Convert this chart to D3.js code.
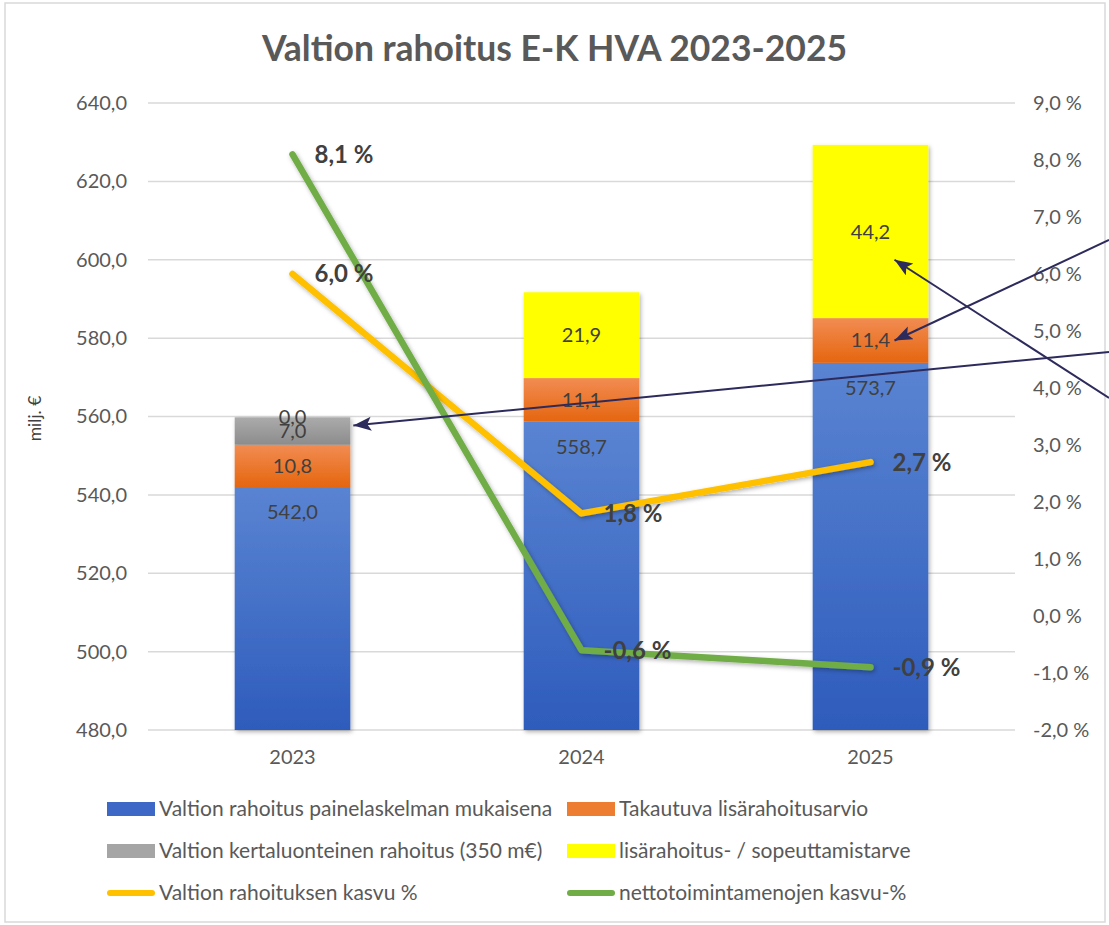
<!DOCTYPE html>
<html>
<head>
<meta charset="utf-8">
<script src="https://cdn.jsdelivr.net/npm/d3@7"></script>
<style>
  body { margin: 0; background: #fff; }
  svg { display: block; font-family: Lato, "Open Sans", sans-serif; }
</style>
</head>
<body>
<div id="chart"></div>
<script>
// data
const years = ["2023", "2024", "2025"];
const painelaskelma = [542.0, 558.7, 573.7];     // blue
const takautuva = [10.8, 11.1, 11.4];            // orange
const kertaluonteinen = [7.0, null, null];       // gray
const lisarahoitus = [0.0, 21.9, 44.2];          // yellow
const rahoitusKasvu = [6.0, 1.8, 2.7];           // yellow line, %
const nettoKasvu = [8.1, -0.6, -0.9];            // green line, %
const leftTicks = [480, 500, 520, 540, 560, 580, 600, 620, 640];
const rightTicks = [-2, -1, 0, 1, 2, 3, 4, 5, 6, 7, 8, 9];

const W = 1109, H = 925;
const plot = {left: 148, right: 1015, top: 103, bottom: 730};

const fi = d3.formatLocale({decimal: ",", thousands: " ", grouping: [3], currency: ["", " €"], minus: "-"});
const f1 = fi.format(".1f");
const pct = v => f1(v) + " %";

const svg = d3.select("#chart").append("svg")
    .attr("width", W)
    .attr("height", H);

const defs = svg.append("defs");

function grad(id, c1, c2) {
    const g = defs.append("linearGradient").attr("id", id)
        .attr("x1", 0).attr("y1", 0).attr("x2", 0).attr("y2", 1);
    g.append("stop").attr("offset", "0%").attr("stop-color", c1);
    g.append("stop").attr("offset", "100%").attr("stop-color", c2);
}
grad("gBlue", "#5a84d2", "#2e5cbc");
grad("gOrange", "#f28c52", "#e5660f");
grad("gGray", "#ababab", "#8c8c8c");
grad("gYellow", "#ffff00", "#ffff00");

defs.append("filter").attr("id", "shadow")
    .attr("x", "-20%").attr("y", "-20%").attr("width", "140%").attr("height", "140%")
    .append("feDropShadow")
    .attr("dx", 1.5).attr("dy", 2).attr("stdDeviation", 2)
    .attr("flood-color", "#000").attr("flood-opacity", 0.3);

defs.append("marker")
    .attr("id", "arrow")
    .attr("markerUnits", "userSpaceOnUse")
    .attr("markerWidth", 20).attr("markerHeight", 16)
    .attr("refX", 18).attr("refY", 7)
    .attr("orient", "auto")
    .append("path")
    .attr("d", "M0,0 L18,7 L0,14 L4,7 Z")
    .attr("fill", "#2d2a5c");

// frame
svg.append("rect")
    .attr("x", 5).attr("y", 3)
    .attr("width", W - 9).attr("height", H - 6)
    .attr("fill", "#fff")
    .attr("stroke", "#d9d9d9")
    .attr("stroke-width", 1.5);

// title
svg.append("text")
    .attr("x", W / 2)
    .attr("y", 61)
    .attr("text-anchor", "middle")
    .attr("font-size", 35.5)
    .attr("font-weight", "bold")
    .attr("fill", "#595959")
    .text("Valtion rahoitus E-K HVA 2023-2025");

/* Scales */
const x = d3.scaleBand().domain(years).range([plot.left, plot.right]);
const y = d3.scaleLinear().domain([480, 640]).range([plot.bottom, plot.top]);
const y2 = d3.scaleLinear().domain([-2, 9]).range([plot.bottom, plot.top]);
const barW = x.bandwidth() * 0.4;

// gridlines
svg.append("g")
    .selectAll("line")
    .data(leftTicks).enter()
    .append("line")
    .attr("x1", plot.left).attr("x2", plot.right)
    .attr("y1", d => y(d)).attr("y2", d => y(d))
    .attr("stroke", "#d9d9d9")
    .attr("stroke-width", 1.5);

/* Axes */
const yAxis = d3.axisLeft(y).tickValues(leftTicks).tickSize(0).tickPadding(21).tickFormat(f1);
const y2Axis = d3.axisRight(y2).tickValues(rightTicks).tickSize(0).tickPadding(18).tickFormat(pct);
const xAxis = d3.axisBottom(x).tickSize(0).tickPadding(20);

function styleAxis(g) {
    g.select(".domain").remove();
    g.selectAll("text")
        .attr("font-size", 20)
        .attr("fill", "#595959")
        .attr("font-family", "Lato, sans-serif");
}
svg.append("g").attr("transform", `translate(${plot.left},0)`).call(yAxis).call(styleAxis);
svg.append("g").attr("transform", `translate(${plot.right},0)`).call(y2Axis).call(styleAxis);
svg.append("g").attr("transform", `translate(0,${plot.bottom})`).call(xAxis).call(styleAxis);

svg.append("text")
    .attr("transform", `translate(41,${(plot.top + plot.bottom) / 2 + 2}) rotate(-90)`)
    .attr("text-anchor", "middle")
    .attr("font-size", 17.5)
    .attr("fill", "#404040")
    .text("milj. €");

/* Stacked bars */
const series = [
    {name: "Valtion rahoitus painelaskelman mukaisena", values: painelaskelma, fill: "url(#gBlue)", legend: "#3d68c6", labelAt: "top"},
    {name: "Takautuva lisärahoitusarvio", values: takautuva, fill: "url(#gOrange)", legend: "#ed7d31"},
    {name: "Valtion kertaluonteinen rahoitus (350 m€)", values: kertaluonteinen, fill: "url(#gGray)", legend: "#a5a5a5"},
    {name: "lisärahoitus- / sopeuttamistarve", values: lisarahoitus, fill: "url(#gYellow)", legend: "#ffff00"}
];

const segs = [];
years.forEach((yr, i) => {
    let cum = 0;
    series.forEach(s => {
        const v = s.values[i];
        if (v === null) return;
        segs.push({year: yr, y0: cum, y1: cum + v, v: v, s: s});
        cum += v;
    });
});

const ymin = y.domain()[0];
svg.append("g")
    .attr("filter", "url(#shadow)")
    .selectAll("rect")
    .data(segs.filter(d => d.v > 0)).enter()
    .append("rect")
    .attr("x", d => x(d.year) + (x.bandwidth() - barW) / 2)
    .attr("width", barW)
    .attr("y", d => y(d.y1))
    .attr("height", d => y(Math.max(d.y0, ymin)) - y(d.y1))
    .attr("fill", d => d.s.fill);

svg.append("g")
    .selectAll("text")
    .data(segs).enter()
    .append("text")
    .attr("x", d => x(d.year) + x.bandwidth() / 2)
    .attr("y", d => d.s.labelAt === "top" ? y(d.y1) + 25 : y((d.y0 + d.y1) / 2))
    .attr("dy", "0.35em")
    .attr("text-anchor", "middle")
    .attr("font-size", 20)
    .attr("fill", "#404040")
    .text(d => f1(d.v));

/* Lines */
const lines = [
    {name: "Valtion rahoituksen kasvu %", values: rahoitusKasvu, color: "#ffc000"},
    {name: "nettotoimintamenojen kasvu-%", values: nettoKasvu, color: "#70ad47"}
];

const line = d3.line()
    .x((d, i) => x(years[i]) + x.bandwidth() / 2)
    .y(d => y2(d));

lines.forEach(l => {
    svg.append("path")
        .attr("d", line(l.values))
        .attr("fill", "none")
        .attr("stroke", l.color)
        .attr("stroke-width", 6.5)
        .attr("stroke-linecap", "round")
        .attr("stroke-linejoin", "round")
        .attr("filter", "url(#shadow)");
});

lines.forEach(l => {
    svg.append("g")
        .selectAll("text")
        .data(l.values).enter()
        .append("text")
        .attr("x", (d, i) => x(years[i]) + x.bandwidth() / 2 + 22)
        .attr("y", d => y2(d))
        .attr("dy", "0.35em")
        .attr("font-size", 24)
        .attr("font-weight", "bold")
        .attr("fill", "#404040")
        .text(pct);
});

/* Annotation arrows coming in from the right edge */
const notes = [
    {year: "2023", value: 557.7, dx: barW / 2 + 3, from: [W, 352]},
    {year: "2025", value: 579.4, dx: 24, from: [W, 240]},
    {year: "2025", value: 600.0, dx: 24, from: [W, 398]}
];
svg.append("g")
    .selectAll("line")
    .data(notes).enter()
    .append("line")
    .attr("x1", d => d.from[0]).attr("y1", d => d.from[1])
    .attr("x2", d => x(d.year) + x.bandwidth() / 2 + d.dx)
    .attr("y2", d => y(d.value))
    .attr("stroke", "#2d2a5c")
    .attr("stroke-width", 2)
    .attr("marker-end", "url(#arrow)");

/* Legend */
const legendItems = [
    {name: series[0].name, color: series[0].legend, type: "rect"},
    {name: series[1].name, color: series[1].legend, type: "rect"},
    {name: series[2].name, color: series[2].legend, type: "rect"},
    {name: series[3].name, color: series[3].legend, type: "rect"},
    {name: lines[0].name, color: lines[0].color, type: "line"},
    {name: lines[1].name, color: lines[1].color, type: "line"}
];
const legendCols = [107, 567];
const legendRows = [809, 851, 893];

const leg = svg.append("g")
    .selectAll("g")
    .data(legendItems).enter()
    .append("g")
    .attr("transform", (d, i) => `translate(${legendCols[i % 2]},${legendRows[Math.floor(i / 2)]})`);

leg.filter(d => d.type === "rect").append("rect")
    .attr("x", 0).attr("y", -7)
    .attr("width", 48).attr("height", 14)
    .attr("fill", d => d.color);

leg.filter(d => d.type === "line").append("line")
    .attr("x1", 3).attr("x2", 45)
    .attr("y1", 0).attr("y2", 0)
    .attr("stroke", d => d.color)
    .attr("stroke-width", 6)
    .attr("stroke-linecap", "round");

leg.append("text")
    .attr("x", 52)
    .attr("y", 0)
    .attr("dy", "0.35em")
    .attr("font-size", 21)
    .attr("fill", "#595959")
    .text(d => d.name);
</script>
</body>
</html>
